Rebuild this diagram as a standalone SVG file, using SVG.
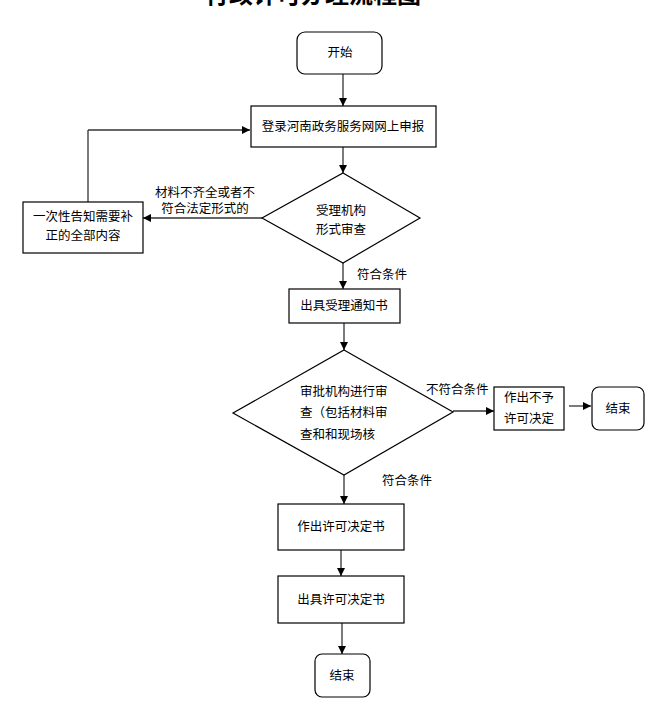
<svg xmlns="http://www.w3.org/2000/svg" width="661" height="719" viewBox="0 0 661 719">
<defs>
<marker id="arr" viewBox="0 0 10 10" refX="10" refY="5" markerWidth="8" markerHeight="8" markerUnits="userSpaceOnUse" orient="auto">
<path d="M0,0 L10,5 L0,10 z" fill="#000"/>
</marker>
<style>
text{font-family:"Noto Sans CJK SC","Liberation Sans",sans-serif;font-size:12.5px;fill:#000}
.t{text-anchor:middle}
.box{fill:#fff;stroke:#000;stroke-width:1.2}
.c{fill:none;stroke:#333;stroke-width:1.3;marker-end:url(#arr)}
.l{fill:none;stroke:#333;stroke-width:1.3}
.title{font-size:24px;font-weight:bold;text-anchor:middle}
</style>
</defs>
<rect width="661" height="719" fill="#fff"/>
<text class="title" x="313" y="3">行政许可办理流程图</text>
<g id="connectors">
<path class="c" d="M343,74 V106"/>
<path class="c" d="M343,147 V173"/>
<path class="c" d="M262,218 H143"/>
<path class="l" d="M88,202 V130"/>
<path class="c" d="M88,130 H250"/>
<path class="c" d="M343,263 V289"/>
<path class="c" d="M344,323 V350"/>
<path class="c" d="M453,411 H494"/>
<path class="c" d="M569,406 H591"/>
<path class="c" d="M344,475 V504"/>
<path class="c" d="M341,550 V576"/>
<path class="c" d="M342,623 V654"/>
<text x="205" y="197" class="t">材料不齐全或者不</text>
<text x="205" y="213" class="t">符合法定形式的</text>
<text x="357" y="279">符合条件</text>
<text x="426" y="394">不符合条件</text>
<text x="382" y="485">符合条件</text>
</g>
<g id="start">
<rect class="box" x="297" y="32" width="85" height="42" rx="8"/>
<text class="t" x="340" y="57">开始</text>
</g>
<g id="apply">
<rect class="box" x="251" y="106" width="185" height="41"/>
<text class="t" x="343" y="131">登录河南政务服务网网上申报</text>
</g>
<g id="check">
<polygon class="box" points="343,173 420,218 343,263 262,218"/>
<text class="t" x="341" y="215">受理机构</text>
<text class="t" x="341" y="234">形式审查</text>
</g>
<g id="notify">
<rect class="box" x="23" y="202" width="120" height="51"/>
<text class="t" x="83" y="221">一次性告知需要补</text>
<text class="t" x="83" y="240">正的全部内容</text>
</g>
<g id="accept">
<rect class="box" x="289" y="289" width="111" height="34"/>
<text class="t" x="344" y="310">出具受理通知书</text>
</g>
<g id="review">
<polygon class="box" points="344,350 453,412 344,475 233,413"/>
<text x="300" y="396">审批机构进行审</text>
<text x="300" y="417">查（包括材料审</text>
<text x="300" y="439">查和和现场核</text>
</g>
<g id="reject">
<rect class="box" x="494" y="387" width="70" height="43"/>
<text class="t" x="529" y="402">作出不予</text>
<text class="t" x="529" y="423">许可决定</text>
</g>
<g id="end1">
<rect class="box" x="592" y="387" width="52" height="43" rx="7"/>
<text class="t" x="618" y="413">结束</text>
</g>
<g id="decide">
<rect class="box" x="278" y="504" width="126" height="46"/>
<text class="t" x="341" y="531">作出许可决定书</text>
</g>
<g id="issue">
<rect class="box" x="278" y="576" width="126" height="47"/>
<text class="t" x="341" y="604">出具许可决定书</text>
</g>
<g id="end2">
<rect class="box" x="315" y="654" width="55" height="43" rx="7"/>
<text class="t" x="342" y="680">结束</text>
</g>
</svg>
